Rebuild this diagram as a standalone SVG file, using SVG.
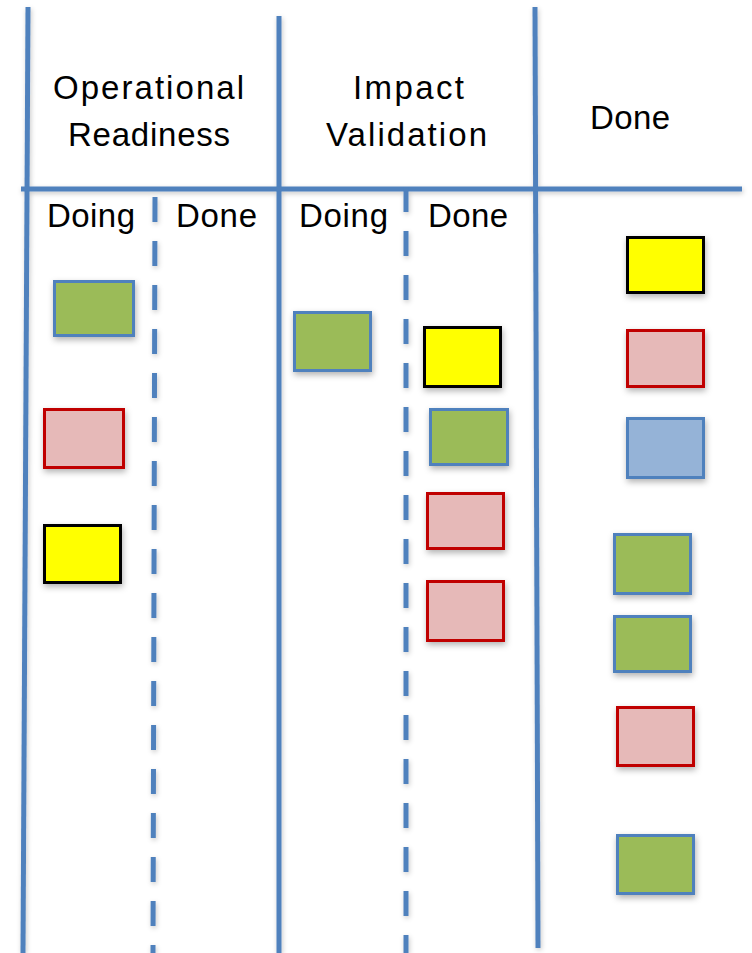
<svg xmlns="http://www.w3.org/2000/svg" width="752" height="953" viewBox="0 0 752 953">
  <defs>
    <filter id="shadow" x="-20%" y="-20%" width="150%" height="160%">
      <feDropShadow dx="1" dy="3" stdDeviation="3" flood-color="#000" flood-opacity="0.3"/>
    </filter>
    <filter id="lineShadow" x="-200%" y="-5%" width="500%" height="110%">
      <feDropShadow dx="1" dy="2" stdDeviation="2.5" flood-color="#000" flood-opacity="0.22"/>
    </filter>
    <style>
      .rule { stroke: #4F81BD; stroke-width: 5; fill: none; }
      .dash { stroke: #4F81BD; stroke-width: 5; fill: none; stroke-dasharray: 25 19; }
      .lbl { font-family: "Liberation Sans", Arial, sans-serif; font-size: 33px; fill: #000; }
      .card { stroke-width: 3; filter: url(#shadow); }
      .green { fill: #9BBB59; stroke: #4F81BD; }
      .pink { fill: #E6B9B8; stroke: #C00000; }
      .yellow { fill: #FFFF00; stroke: #000; }
      .blue { fill: #95B3D7; stroke: #4F81BD; }
    </style>
  </defs>
  <rect width="752" height="953" fill="#fff"/>

  <!-- board grid -->
  <g id="grid" filter="url(#lineShadow)">
    <line class="rule" x1="28" y1="7" x2="23" y2="953"/>
    <line class="rule" x1="279" y1="16" x2="279" y2="953"/>
    <line class="rule" x1="535" y1="7" x2="538" y2="948"/>
    <line class="rule" x1="21" y1="189" x2="742" y2="189"/>
    <line class="dash" x1="155" y1="197" x2="153" y2="953"/>
    <line class="dash" x1="406" y1="187" x2="406" y2="953"/>
  </g>

  <!-- column headings -->
  <g id="headings">
    <text class="lbl" x="53" y="99" textLength="191" lengthAdjust="spacing">Operational</text>
    <text class="lbl" x="68" y="146" textLength="162" lengthAdjust="spacing">Readiness</text>
    <text class="lbl" x="353" y="99" textLength="111" lengthAdjust="spacing">Impact</text>
    <text class="lbl" x="326" y="146" textLength="161" lengthAdjust="spacing">Validation</text>
    <text class="lbl" x="590" y="129" textLength="80" lengthAdjust="spacing">Done</text>
    <text class="lbl" x="47" y="227" textLength="88" lengthAdjust="spacing">Doing</text>
    <text class="lbl" x="176" y="227" textLength="81" lengthAdjust="spacing">Done</text>
    <text class="lbl" x="299" y="227" textLength="89" lengthAdjust="spacing">Doing</text>
    <text class="lbl" x="428" y="227" textLength="80" lengthAdjust="spacing">Done</text>
  </g>

  <!-- cards -->
  <g id="card1"><rect class="card green" x="54.5" y="281.5" width="79" height="54"/></g>
  <g id="card2"><rect class="card pink" x="44.5" y="409.5" width="79" height="58"/></g>
  <g id="card3"><rect class="card yellow" x="44.5" y="525.5" width="76" height="57"/></g>
  <g id="card4"><rect class="card green" x="294.5" y="312.5" width="76" height="58"/></g>
  <g id="card5"><rect class="card yellow" x="424.5" y="327.5" width="76" height="59"/></g>
  <g id="card6"><rect class="card green" x="430.5" y="409.5" width="77" height="55"/></g>
  <g id="card7"><rect class="card pink" x="427.5" y="493.5" width="76" height="55"/></g>
  <g id="card8"><rect class="card pink" x="427.5" y="581.5" width="76" height="59"/></g>
  <g id="card9"><rect class="card yellow" x="627.5" y="237.5" width="76" height="55"/></g>
  <g id="card10"><rect class="card pink" x="627.5" y="330.5" width="76" height="56"/></g>
  <g id="card11"><rect class="card blue" x="627.5" y="418.5" width="76" height="59"/></g>
  <g id="card12"><rect class="card green" x="614.5" y="534.5" width="76" height="59"/></g>
  <g id="card13"><rect class="card green" x="614.5" y="616.5" width="76" height="55"/></g>
  <g id="card14"><rect class="card pink" x="617.5" y="707.5" width="76" height="58"/></g>
  <g id="card15"><rect class="card green" x="617.5" y="835.5" width="76" height="58"/></g>
</svg>
